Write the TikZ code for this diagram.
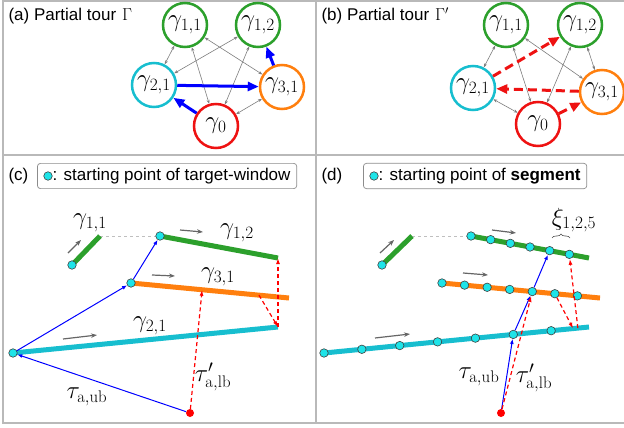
\documentclass[tikz,border=0pt]{standalone}
\usepackage{amsmath,amssymb}
\usepackage{fontspec}
\setsansfont{Liberation Sans}
\usetikzlibrary{fit,calc,arrows.meta,decorations.pathreplacing}

\definecolor{tgreen}{RGB}{44,160,44}
\definecolor{torange}{RGB}{255,127,14}
\definecolor{tcyan}{RGB}{23,190,207}
\definecolor{tred}{RGB}{238,18,18}
\definecolor{dotcyan}{RGB}{30,228,232}
\definecolor{linkgray}{RGB}{125,125,125}
\definecolor{framegray}{RGB}{185,185,185}

\newcommand\panelfont{\sffamily\fontsize{17}{20}\selectfont}
\newcommand\mathsize{\fontsize{24}{28}\selectfont}

\begin{document}
\begin{tikzpicture}[x=1pt, y=-1pt,
        every node/.style={align=center},
        city/.style={circle, draw=#1, line width=2.5pt, minimum size=44pt, inner sep=0pt, font=\mathsize},
        link/.style={{Stealth[length=4pt,width=3pt]}-{Stealth[length=4pt,width=3pt]}, draw=linkgray, line width=0.6pt},
        tour/.style={-{Triangle[length=11pt,width=9pt]}, draw=blue, line width=3pt},
        newtour/.style={-{Triangle[length=11pt,width=9pt]}, draw=tred, line width=3pt, dash pattern=on 9pt off 5pt},
        window/.style={draw=#1, line width=5pt},
        sdot/.style={circle, draw=black!75, fill=dotcyan, line width=0.6pt, minimum size=8.5pt, inner sep=0pt},
        srcdot/.style={circle, fill=red, minimum size=8pt, inner sep=0pt},
        ubpath/.style={draw=blue, line width=1pt},
        ubarrow/.style={ubpath, -{Latex[length=5pt,width=4pt]}},
        lbarrow/.style={draw=red, line width=1.2pt, dash pattern=on 4pt off 3pt, -{Latex[length=6pt,width=4pt]}},
        mover/.style={-{Stealth[length=6pt,width=4.5pt]}, draw=black!60, line width=1.2pt},
        gapline/.style={draw=black!25, dashed, line width=0.6pt},
        legbox/.style={draw=black!45, rounded corners=3pt, line width=0.7pt, inner xsep=6pt, inner ysep=4.5pt},
        wlabel/.style={font=\mathsize, inner sep=0pt},
    ]
    \useasboundingbox (0,0) rectangle (624,428);
    \draw[framegray, line width=1.5pt] (624,1) -- (3,1) -- (3,423) -- (624,423);
    \draw[framegray, line width=1.5pt] (316,1) -- (316,423);
    \draw[framegray, line width=1.5pt] (3,155) -- (624,155);

    % (a)
    \node[anchor=west, font=\panelfont] (tita) at (5,16) {(a) Partial tour\hspace{6pt}$\Gamma$};
    \node[city=tgreen] (a11) at (185,25) {$\gamma_{1,1}$};
    \node[city=tgreen] (a12) at (258,25) {$\gamma_{1,2}$};
    \node[city=tcyan] (a21) at (154,85) {$\gamma_{2,1}$};
    \node[city=torange] (a31) at (282,87) {$\gamma_{3,1}$};
    \node[city=tred] (a0) at (216,126) {$\gamma_{0}$};
    \draw[link] (a11) -- (a21);
    \draw[link] (a11) -- (a0);
    \draw[link] (a11) -- (a31);
    \draw[link] (a12) -- (a21);
    \draw[link] (a12) -- (a0);
    \draw[link] (a0) -- (a31);
    \draw[tour] (a0) -- (a21);
    \draw[tour] (a21) -- (a31);
    \draw[tour] (a31) -- (a12);

    % (b)
    \node[anchor=west, font=\panelfont] (titb) at (318,16) {(b) Partial tour\hspace{6pt}$\Gamma'$};
    \node[city=tgreen] (b11) at (506,25) {$\gamma_{1,1}$};
    \node[city=tgreen] (b12) at (580,25) {$\gamma_{1,2}$};
    \node[city=tcyan] (b21) at (473,88) {$\gamma_{2,1}$};
    \node[city=torange] (b31) at (602,92) {$\gamma_{3,1}$};
    \node[city=tred] (b0) at (538,124) {$\gamma_{0}$};
    \draw[link] (b11) -- (b21);
    \draw[link] (b11) -- (b0);
    \draw[link] (b11) -- (b31);
    \draw[link] (b12) -- (b0);
    \draw[link] (b12) -- (b31);
    \draw[link] (b21) -- (b0);
    \draw[newtour] (b21) -- (b12);
    \draw[newtour] (b31) -- (b21);
    \draw[newtour] (b0) -- (b31);

    % (c)
    \node[anchor=west, font=\panelfont] (titc) at (5,176) {(c)};
    \node[sdot] (cdot) at (48,176) {};
    \node[anchor=west, font=\panelfont, inner sep=0pt] (ctext) at (52.5,176) {: starting point of target-window};
    \node[legbox, fit=(cdot)(ctext)] (cleg) {};

    \coordinate (c11s) at (72,265);
    \coordinate (c11e) at (100,236);
    \coordinate (c12s) at (160,236);
    \coordinate (c12e) at (278,258);
    \coordinate (c31s) at (131,283);
    \coordinate (c31e) at (289,298);
    \coordinate (c21s) at (13,353);
    \coordinate (c21e) at (278,327);
    \draw[gapline] (c11e) -- (c12s);
    \draw[window=tgreen] (c11s) -- (c11e);
    \draw[window=tgreen] (c12s) -- (c12e);
    \draw[window=torange] (c31s) -- (c31e);
    \draw[window=tcyan] (c21s) -- (c21e);
    \draw[mover] (68,253) -- (81,240);
    \draw[mover] (180,230) -- (203,232);
    \draw[mover] (152,275) -- (175,276);
    \draw[mover] (63,339) -- (97,335);
    \node[wlabel] (lc11) at (90,223) {$\gamma_{1,1}$};
    \node[wlabel] (lc12) at (237,233) {$\gamma_{1,2}$};
    \node[wlabel] (lc31) at (218,277) {$\gamma_{3,1}$};
    \node[wlabel] (lc21) at (150,326) {$\gamma_{2,1}$};

    \node[sdot] (cw11) at (c11s) {};
    \node[sdot] (cw12) at (c12s) {};
    \node[sdot] (cw31) at (c31s) {};
    \node[sdot] (cw21) at (c21s) {};
    \node[srcdot] (csrc) at (190,413) {};
    \coordinate (c31x) at ($(c31s)!0.45!(c31e)$);
    \coordinate (c31y) at ($(c31s)!0.81!(c31e)$);
    \draw[ubarrow] (csrc) -- (cw21);
    \draw[ubarrow] (cw21) -- (cw31);
    \draw[ubarrow] (cw31) -- (cw12);
    \draw[lbarrow] (csrc) -- (c31x);
    \draw[lbarrow] (c31y) -- (c21e);
    \draw[lbarrow] (c21e) -- (c12e);
    \node[wlabel] (lcub) at (87,397) {$\tau_{\mathrm{a,ub}}$};
    \node[wlabel] (lclb) at (213,377) {$\tau'_{\mathrm{a,lb}}$};

    % (d)
    \node[anchor=west, font=\panelfont] (titd) at (318,176) {(d)};
    \node[sdot] (ddot) at (374,176) {};
    \node[anchor=west, font=\panelfont, inner sep=0pt] (dtext) at (378.5,176) {: starting point of \textbf{segment}};
    \node[legbox, fit=(ddot)(dtext)] (dleg) {};

    \coordinate (d11s) at (382,265);
    \coordinate (d11e) at (412,236);
    \coordinate (d12s) at (471,236);
    \coordinate (d12e) at (589,258);
    \coordinate (d31s) at (442,283);
    \coordinate (d31e) at (600,298);
    \coordinate (d21s) at (324,353);
    \coordinate (d21e) at (589,327);
    \draw[gapline] (d11e) -- (d12s);
    \draw[window=tgreen] (d11s) -- (d11e);
    \draw[window=tgreen] (d12s) -- (d12e);
    \draw[window=torange] (d31s) -- (d31e);
    \draw[window=tcyan] (d21s) -- (d21e);
    \draw[mover] (380,253) -- (394,240);
    \draw[mover] (492,230) -- (516,233);
    \draw[mover] (463,273) -- (488,275);
    \draw[mover] (375,338) -- (410,334);

    \node[sdot] (dw11) at (d11s) {};
    \foreach \k in {0,...,5}
        \node[sdot] (d12-\k) at ($(d12s)!\k/6!(d12e)$) {};
    \foreach \k in {0,...,6}
        \node[sdot] (d31-\k) at ($(d31s)!\k/7!(d31e)$) {};
    \foreach \k in {0,...,6}
        \node[sdot] (d21-\k) at ($(d21s)!\k/7!(d21e)$) {};
    \node[srcdot] (dsrc) at (501,413) {};
    \coordinate (d21x) at ($(d21s)!0.94!(d21e)$);
    \coordinate (d21y) at ($(d21s)!0.958!(d21e)$);
    \draw[ubarrow] (dsrc) -- (d21-5);
    \draw[ubarrow] (d21-5) -- (d31-4);
    \draw[ubarrow] (d31-4) -- (d12-4);
    \draw[lbarrow] (dsrc) -- (d31-4);
    \draw[lbarrow] (d31-5) -- (d21x);
    \draw[lbarrow] (d21y) -- (d12-5);
    \draw[decorate, decoration={brace, amplitude=4pt}, line width=0.6pt, black!70] (552,238) -- (570,238);
    \node[wlabel] (lxi) at (574,220) {$\xi_{1,2,5}$};
    \node[wlabel] (ldub) at (479,377) {$\tau_{\mathrm{a,ub}}$};
    \node[wlabel] (ldlb) at (534,378) {$\tau'_{\mathrm{a,lb}}$};
\end{tikzpicture}
\end{document}
